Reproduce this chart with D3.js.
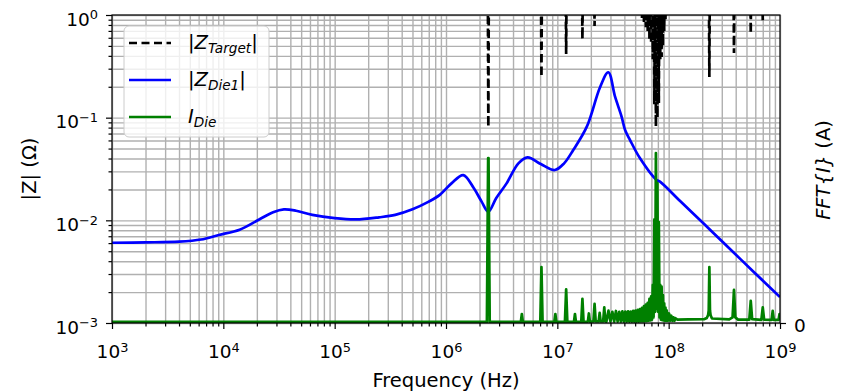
<!DOCTYPE html>
<html>
<head>
<meta charset="utf-8">
<script src="https://cdn.jsdelivr.net/npm/d3@7"></script>
<style>
  html, body { margin: 0; padding: 0; background: #fff; }
  svg text { font-family: "DejaVu Sans", sans-serif; fill: #000; }
</style>
</head>
<body>
<svg id="chart" width="844" height="392"></svg>
<script>
// ---- |Z_Die1| : impedance seen at the die (Hz, ohm) ----
const zFreq = [1e3, 2e3, 4e3, 6.3e3, 9.1e3, 1.4e4, 2.1e4, 2.8e4, 3.5e4, 4.5e4, 6.3e4,
  1e5, 1.55e5, 2.5e5, 3.5e5, 5e5, 7e5, 8.8e5, 1.12e6, 1.43e6, 1.78e6, 2.09e6, 2.4e6,
  2.82e6, 3.5e6, 4.47e6, 5.4e6, 7.1e6, 9.5e6, 1.15e7, 1.39e7, 1.84e7, 2.42e7, 2.87e7,
  3.3e7, 3.78e7, 4.06e7, 4.5e7, 5.53e7, 7.8e7, 8.36e7, 1.26e8, 2.05e8, 3.16e8, 5.75e8, 1e9];
const zDie = [0.00605, 0.0061, 0.0062, 0.0065, 0.0072, 0.0081, 0.0102, 0.0120, 0.0128, 0.0124, 0.0113,
  0.0105, 0.0102, 0.0107, 0.0113, 0.0128, 0.0152, 0.0177, 0.0229, 0.0276, 0.0205, 0.0152, 0.0121,
  0.0164, 0.0229, 0.0359, 0.0411, 0.0354, 0.0309, 0.0359, 0.0484, 0.0817, 0.198, 0.277,
  0.160, 0.102, 0.0759, 0.0605, 0.0402, 0.0247, 0.0238, 0.0155, 0.00935, 0.00594, 0.00318, 0.00179];

// ---- |Z_Target| : target impedance, only finite where the die current has content ----
const targetFreq = [2.4e6, 7.2e6, 1.2e7, 1.68e7, 2.16e7, 2.64e7,
  5.76e7, 6.0e7, 6.24e7, 6.48e7, 6.72e7, 6.96e7, 7.2e7, 7.44e7, 7.68e7, 7.92e7, 8.16e7,
  8.4e7, 8.64e7, 8.88e7, 9.12e7, 9.36e7,
  2.32e8, 3.86e8, 5.46e8, 7.0e8];
const targetZ = [0.081, 0.249, 0.417, 0.583, 0.78, 0.955,
  0.93, 0.82, 0.76, 0.70, 0.58, 0.53, 0.37, 0.135, 0.082, 0.10, 0.139,
  0.37, 0.39, 0.50, 0.70, 0.91,
  0.249, 0.427, 0.66, 0.89];
const targetCeil = 3;      // target level between current harmonics (off the top of the axis)
const binRatio = 1.012;    // neighbouring FFT bin, as a frequency ratio

// ---- I_Die : FFT magnitude of the die current (Hz, A) ----
const iFreq = [1e3,
  2.33e6, 2.39e6, 2.41e6, 2.47e6, 4.7e6, 4.8e6, 4.9e6, 7.03e6, 7.2e6, 7.37e6, 9.4e6, 9.6e6, 9.8e6,
  1.17e7, 1.2e7, 1.23e7, 1.41e7, 1.44e7, 1.47e7, 1.64e7, 1.68e7, 1.72e7,
  1.88e7, 1.92e7, 1.96e7, 2.11e7, 2.16e7, 2.21e7, 2.35e7, 2.4e7, 2.45e7,
  2.58e7, 2.64e7, 2.7e7,
  2.76e7, 2.88e7, 3.0e7, 3.12e7, 3.24e7, 3.36e7, 3.48e7, 3.6e7, 3.72e7, 3.84e7, 3.96e7,
  4.08e7, 4.2e7, 4.32e7, 4.44e7, 4.56e7, 4.68e7, 4.8e7, 4.92e7, 5.04e7, 5.16e7, 5.28e7,
  5.4e7, 5.52e7, 5.64e7, 5.76e7, 5.88e7, 6.0e7, 6.12e7, 6.24e7, 6.36e7, 6.48e7, 6.6e7,
  6.72e7, 6.84e7, 6.96e7, 7.08e7, 7.2e7, 7.32e7, 7.44e7, 7.56e7, 7.68e7, 7.8e7, 7.92e7,
  8.04e7, 8.16e7, 8.28e7, 8.4e7, 8.52e7, 8.64e7, 8.76e7, 8.88e7, 9.0e7, 9.12e7, 9.24e7,
  9.36e7, 9.48e7, 9.6e7, 9.84e7, 1.008e8, 1.032e8, 1.056e8, 1.08e8, 1.104e8, 1.128e8,
  1.152e8, 1.2e8,
  1.5e8, 2.1e8, 2.2e8, 2.26e8, 2.29e8, 2.32e8, 2.35e8, 2.38e8, 2.45e8,
  3.5e8, 3.75e8, 3.86e8, 3.97e8, 4.2e8, 5.3e8, 5.46e8, 5.62e8,
  6.8e8, 7.0e8, 7.2e8, 8.4e8, 8.6e8, 8.8e8, 9.7e8, 9.9e8, 1e9];
const iAmp = [0.004,
  0.004, 0.589, 0.589, 0.004, 0.004, 0.032, 0.004, 0.004, 0.200, 0.004, 0.004, 0.032, 0.004,
  0.004, 0.120, 0.004, 0.004, 0.032, 0.004, 0.004, 0.086, 0.004,
  0.005, 0.034, 0.005, 0.006, 0.068, 0.006, 0.006, 0.036, 0.006,
  0.006, 0.056, 0.006,
  0.005, 0.044, 0.005, 0.040, 0.005, 0.043, 0.005, 0.040, 0.005, 0.042, 0.005,
  0.041, 0.005, 0.042, 0.005, 0.041, 0.005, 0.043, 0.005, 0.044, 0.005, 0.047,
  0.005, 0.050, 0.006, 0.054, 0.006, 0.060, 0.007, 0.066, 0.007, 0.072, 0.008,
  0.086, 0.009, 0.095, 0.012, 0.136, 0.020, 0.370, 0.040, 0.607, 0.050, 0.500,
  0.040, 0.360, 0.020, 0.136, 0.012, 0.130, 0.010, 0.100, 0.009, 0.070, 0.008,
  0.055, 0.008, 0.045, 0.008, 0.034, 0.008, 0.026, 0.008, 0.020, 0.008,
  0.017, 0.012,
  0.013, 0.014, 0.018, 0.028, 0.045, 0.200, 0.045, 0.028, 0.016,
  0.013, 0.020, 0.118, 0.020, 0.012, 0.012, 0.079, 0.014,
  0.011, 0.056, 0.012, 0.011, 0.043, 0.011, 0.011, 0.032, 0.011];

// ---- axes ----
const xTickExp = [3, 4, 5, 6, 7, 8, 9];
const yTickExp = [-3, -2, -1, 0];
const iTicks = [0];
const iRange = [0, 1.1];
const legendNames = [["|", "Z", "Target", "|"], ["|", "Z", "Die1", "|"], ["", "I", "Die", ""]];
const legendColors = ["#000000", "#0000ff", "#008000"];

const plot = { left: 112, right: 780, top: 15, bottom: 323 };
const FS = 18.5;      // tick labels
const FL = 19.5;      // titles and legend
const LW = 2.7;       // series line width

const svg = d3.select("#chart");
const x = d3.scaleLog().domain([1e3, 1e9]).range([plot.left, plot.right]);
const y = d3.scaleLog().domain([1e-3, 1]).range([plot.bottom, plot.top]);
const yI = d3.scaleLinear().domain(iRange).range([plot.bottom, plot.top]);

const majorX = xTickExp.map(e => Math.pow(10, e));
const majorY = yTickExp.map(e => Math.pow(10, e));
const minorX = d3.range(xTickExp[0], xTickExp[xTickExp.length - 1])
  .flatMap(e => d3.range(2, 10).map(m => m * Math.pow(10, e)));
const minorY = d3.range(yTickExp[0], yTickExp[yTickExp.length - 1])
  .flatMap(e => d3.range(2, 10).map(m => m * Math.pow(10, e)));

svg.append("defs").append("clipPath").attr("id", "plot-clip")
  .append("rect")
  .attr("x", plot.left).attr("y", plot.top)
  .attr("width", plot.right - plot.left).attr("height", plot.bottom - plot.top);

// grid (major + minor on both axes)
const gridX = svg.append("g").attr("transform", `translate(0,${plot.bottom})`)
  .call(d3.axisBottom(x).tickValues(majorX.concat(minorX))
    .tickSize(-(plot.bottom - plot.top)).tickFormat(""));
const gridY = svg.append("g").attr("transform", `translate(${plot.left},0)`)
  .call(d3.axisLeft(y).tickValues(majorY.concat(minorY))
    .tickSize(-(plot.right - plot.left)).tickFormat(""));
[gridX, gridY].forEach(g => {
  g.select(".domain").remove();
  g.selectAll("line").attr("stroke", "#b0b0b0").attr("stroke-width", 1.4);
});

// series
const series = svg.append("g").attr("clip-path", "url(#plot-clip)");

const targetPts = targetFreq.flatMap((f, i) =>
  [[f / binRatio, targetCeil], [f, targetZ[i]], [f * binRatio, targetCeil]]);
series.append("path")
  .datum(targetPts)
  .attr("fill", "none").attr("stroke", legendColors[0]).attr("stroke-width", LW)
  .attr("stroke-dasharray", "8,4.5")
  .attr("d", d3.line().x(d => x(d[0])).y(d => y(d[1])));

series.append("path")
  .datum(zFreq.map((f, i) => [f, zDie[i]]))
  .attr("fill", "none").attr("stroke", legendColors[1]).attr("stroke-width", LW)
  .attr("stroke-linejoin", "round")
  .attr("d", d3.line().x(d => x(d[0])).y(d => y(d[1])).curve(d3.curveCatmullRom.alpha(0.5)));

// legend (belongs to the left axes, drawn before the twin axes)
const leg = svg.append("g").attr("transform", "translate(124,26)");
leg.append("rect").attr("width", 145).attr("height", 111).attr("rx", 5)
  .attr("fill", "#fff").attr("fill-opacity", 0.8)
  .attr("stroke", "#cccccc").attr("stroke-width", 1);
legendNames.forEach((parts, i) => {
  const cy = 17 + i * 37;
  leg.append("line").attr("x1", 5).attr("x2", 47).attr("y1", cy).attr("y2", cy)
    .attr("stroke", legendColors[i]).attr("stroke-width", LW)
    .attr("stroke-dasharray", i === 0 ? "8,4.5" : null);
  const t = leg.append("text").attr("x", 64).attr("y", cy + 6).attr("font-size", FL);
  if (parts[0]) t.append("tspan").text(parts[0]);
  t.append("tspan").attr("font-style", "italic").text(parts[1]);
  t.append("tspan").attr("font-style", "italic").attr("font-size", FL * 0.7)
    .attr("dy", 4).text(parts[2]);
  if (parts[3]) t.append("tspan").attr("dy", -4).text(parts[3]);
});

// twin axes: current spectrum
const series2 = svg.append("g").attr("clip-path", "url(#plot-clip)");
series2.append("path")
  .datum(iFreq.map((f, i) => [f, iAmp[i]]))
  .attr("fill", "none").attr("stroke", legendColors[2]).attr("stroke-width", LW)
  .attr("stroke-linejoin", "round")
  .attr("d", d3.line().x(d => x(d[0])).y(d => yI(d[1])));

// tick marks and labels
function styleAxis(g) {
  g.attr("font-family", null).attr("font-size", null);
  g.select(".domain").remove();
  g.selectAll("line").attr("stroke", "#000").attr("stroke-width", 1.2);
}
function powLabel(text, exp) {
  text.text("10");
  text.append("tspan").attr("font-size", FS * 0.7).attr("dy", -6.5)
    .text(exp < 0 ? "\u2212" + (-exp) : String(exp));
}

const xAxisMinor = svg.append("g").attr("transform", `translate(0,${plot.bottom})`)
  .call(d3.axisBottom(x).tickValues(minorX).tickSize(3.5).tickFormat(""));
styleAxis(xAxisMinor);
const yAxisMinor = svg.append("g").attr("transform", `translate(${plot.left},0)`)
  .call(d3.axisLeft(y).tickValues(minorY).tickSize(3.5).tickFormat(""));
styleAxis(yAxisMinor);

const xAxis = svg.append("g").attr("transform", `translate(0,${plot.bottom})`)
  .call(d3.axisBottom(x).tickValues(majorX).tickSize(6).tickFormat(() => ""));
styleAxis(xAxis);
xAxis.selectAll(".tick text")
  .attr("y", 35).attr("dy", null).attr("font-size", FS)
  .each(function (d) { powLabel(d3.select(this), Math.round(Math.log10(d))); });

const yAxis = svg.append("g").attr("transform", `translate(${plot.left},0)`)
  .call(d3.axisLeft(y).tickValues(majorY).tickSize(6).tickFormat(() => ""));
styleAxis(yAxis);
yAxis.selectAll(".tick text")
  .attr("x", -14).attr("y", 10.3).attr("dy", null).attr("font-size", FS)
  .each(function (d) { powLabel(d3.select(this), Math.round(Math.log10(d))); });

const iAxis = svg.append("g").attr("transform", `translate(${plot.right},0)`)
  .call(d3.axisRight(yI).tickValues(iTicks).tickSize(6).tickFormat(d3.format("d")));
styleAxis(iAxis);
iAxis.selectAll(".tick text").attr("x", 14).attr("dy", null).attr("y", 8.5)
  .attr("font-size", FS);

// spines
svg.append("rect")
  .attr("x", plot.left).attr("y", plot.top)
  .attr("width", plot.right - plot.left).attr("height", plot.bottom - plot.top)
  .attr("fill", "none").attr("stroke", "#000").attr("stroke-width", 1.2);

// axis titles
svg.append("text").attr("x", (plot.left + plot.right) / 2).attr("y", 386.5)
  .attr("text-anchor", "middle").attr("font-size", FL).text("Frequency (Hz)");

svg.append("text").attr("transform", "translate(35.5,169) rotate(-90)")
  .attr("text-anchor", "middle").attr("font-size", FL).text("|Z| (\u03A9)");

const rt = svg.append("text").attr("transform", "translate(830,170) rotate(-90)")
  .attr("text-anchor", "middle").attr("font-size", FL);
rt.append("tspan").attr("font-style", "italic").text("FFT{I}");
rt.append("tspan").text(" (A)");
</script>
</body>
</html>
